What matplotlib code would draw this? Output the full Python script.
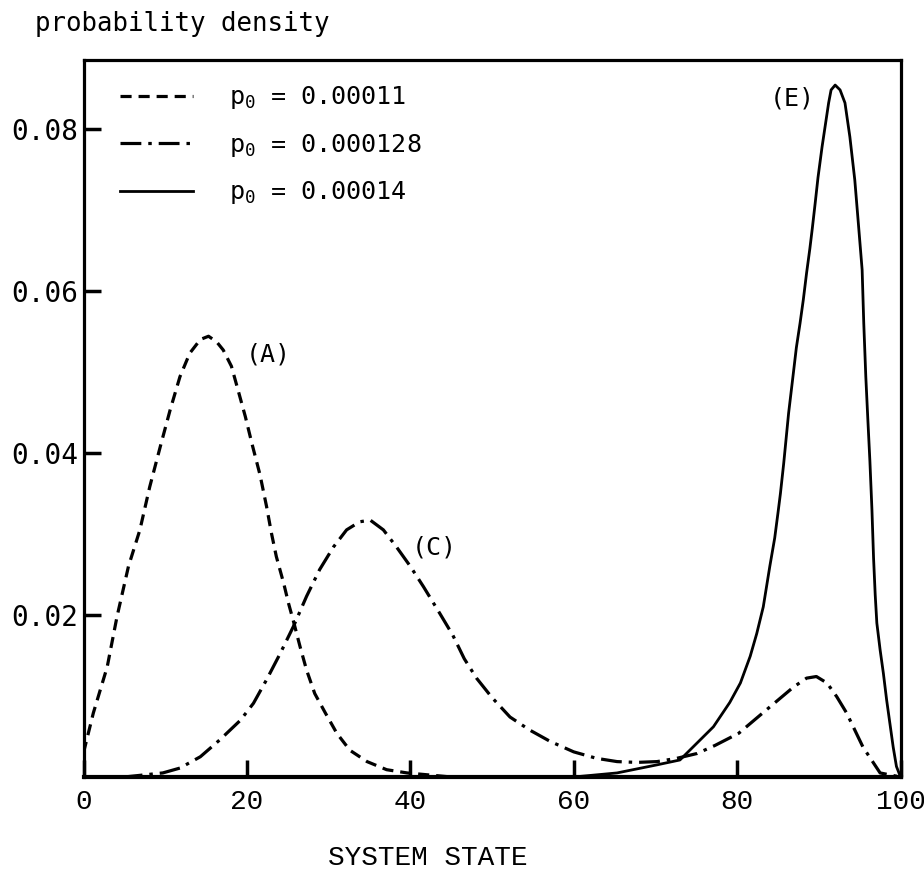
import matplotlib
matplotlib.use('Agg')
import matplotlib.pyplot as plt

# curve (A): p0 = 0.00011
xa = [0, 1.2, 2.9, 4.1, 5.5, 6.9, 8.1, 9.4, 10.6, 11.8, 13.0, 14.3, 15.3, 16.3, 17.1,
      18.1, 18.9, 19.8, 20.6, 21.6, 22.4, 23.0, 23.6, 24.5, 25.1, 25.7, 26.5, 27.3,
      28.3, 29.6, 31.0, 32.6, 34.7, 37.1, 39.6, 45, 60]
ya = [0.003, 0.0079, 0.0136, 0.0198, 0.0260, 0.0305, 0.0358, 0.0408, 0.0453, 0.0494,
      0.0523, 0.0540, 0.0544, 0.0537, 0.0527, 0.0507, 0.0478, 0.0445, 0.0412, 0.0373,
      0.0334, 0.0301, 0.0272, 0.0239, 0.0214, 0.0192, 0.0161, 0.0132, 0.0103, 0.0079,
      0.0054, 0.0033, 0.0019, 0.0009, 0.0005, 0.0, 0.0]

# curve (C): p0 = 0.000128
xc = [0, 5, 9.7, 11.8, 14.3, 16.7, 19.2, 20.8, 22.4, 24.1, 25.7, 27.3, 28.9, 30.6,
      32.2, 33.8, 35.1, 36.7, 38.3, 40.0, 41.6, 43.6, 45.2, 46.6, 48.1, 50.0, 52.2,
      54.6, 57.1, 60.0, 62.8, 65.3, 67.7, 70.2, 72.6, 75.1, 77.3, 80.2, 83.6, 86.9,
      88.5, 89.7, 91.0, 92.2, 93.4, 95.4, 97.5, 100]
yc = [0.0, 0.0, 0.0005, 0.0011, 0.0025, 0.0046, 0.0070, 0.0091, 0.0120, 0.0153,
      0.0186, 0.0223, 0.0256, 0.0284, 0.0305, 0.0315, 0.0317, 0.0305, 0.0284, 0.0260,
      0.0235, 0.0202, 0.0175, 0.0146, 0.0122, 0.0098, 0.0074, 0.0058, 0.0044, 0.0031,
      0.0023, 0.0019, 0.0018, 0.0019, 0.0023, 0.0029, 0.0039, 0.0054, 0.0083, 0.0111,
      0.0122, 0.0124, 0.0116, 0.0099, 0.0079, 0.0037, 0.0005, 0.0]

# curve (E): p0 = 0.00014
xe = [40, 60, 65.3, 70.2, 73.0, 75.1, 77.1, 79.1, 80.4, 81.6, 82.4, 83.2, 84.0, 84.6,
      85.0, 85.3, 85.7, 86.3, 86.9, 87.25, 87.7, 88.1, 88.5, 88.9, 89.2, 89.55, 89.9,
      90.4, 90.8, 91.2, 91.5, 92.0, 92.6, 93.2, 93.8, 94.4, 94.8, 95.3, 95.5, 95.75,
      96.0, 96.25, 96.5, 96.7, 96.9, 97.1, 97.5, 97.9, 98.3, 98.7, 99.1, 99.5, 100]
ye = [0.0, 0.0, 0.0005, 0.0015, 0.0021, 0.0042, 0.0062, 0.0092, 0.0116, 0.0149,
      0.0177, 0.0210, 0.0260, 0.0295, 0.0326, 0.0350, 0.0387, 0.0449, 0.0500, 0.0530,
      0.0560, 0.0589, 0.0622, 0.0652, 0.0677, 0.0708, 0.0740, 0.0778, 0.0805, 0.0832,
      0.0848, 0.0854, 0.0848, 0.0832, 0.0790, 0.0737, 0.0688, 0.0626, 0.0560, 0.0494,
      0.0441, 0.0390, 0.0330, 0.0270, 0.0225, 0.0190, 0.0157, 0.0128, 0.0095, 0.0066,
      0.0037, 0.0013, 0.0]

labels = ['0.00011', '0.000128', '0.00014']
xticks = [0, 20, 40, 60, 80, 100]
yticks = [0.02, 0.04, 0.06, 0.08]

mono = 'DejaVu Sans Mono'
plt.rcParams['lines.scale_dashes'] = False
plt.rcParams['lines.solid_joinstyle'] = 'round'
plt.rcParams['lines.dash_joinstyle'] = 'round'
plt.rcParams['mathtext.fontset'] = 'dejavusans'

fig = plt.figure(figsize=(9.24, 8.74), dpi=100)
ax = fig.add_axes([0.0904, 0.111, 0.8842, 0.8204])

ax.plot(xa, ya, color='black', lw=2.3, linestyle=(0, (8, 5)),
        label=r'p$_\mathtt{0}$ = ' + labels[0])
ax.plot(xc, yc, color='black', lw=2.3, linestyle=(0, (15, 5, 2.5, 5)),
        label=r'p$_\mathtt{0}$ = ' + labels[1])
ax.plot(xe, ye, color='black', lw=2.0, linestyle='-',
        label=r'p$_\mathtt{0}$ = ' + labels[2])

ax.set_xlim(0, 100)
ax.set_ylim(0, 0.0885)
ax.set_xticks(xticks)
ax.set_xticklabels([str(v) for v in xticks], family='Liberation Mono', fontsize=20)
ax.set_yticks(yticks)
ax.set_yticklabels(['%.2f' % v for v in yticks], family=mono, fontsize=20)
ax.tick_params(direction='in', length=12, width=2.5, pad=4)
ax.tick_params(axis='x', pad=9)
for s in ax.spines.values():
    s.set_linewidth(2.3)
ax.spines['bottom'].set_linewidth(3)

ax.text(22.6, 0.0521, '(A)', family=mono, fontsize=18, ha='center', va='center')
ax.text(40.2, 0.0283, '(C)', family=mono, fontsize=18, ha='left', va='center')
ax.text(86.8, 0.0838, '(E)', family=mono, fontsize=18, ha='center', va='center')

ax.legend(loc='upper left', bbox_to_anchor=(0.033, 0.98), frameon=False,
          prop={'family': mono, 'size': 18}, handlelength=2.9, handletextpad=1.45,
          labelspacing=0.82, borderaxespad=0)

fig.text(0.038, 0.973, 'probability density', family=mono, fontsize=18.5,
         ha='left', va='center')
fig.text(0.463, 0.004, 'SYSTEM STATE', family='Liberation Mono', fontsize=20,
         ha='center', va='bottom')

fig.savefig('out.png', dpi=100)
